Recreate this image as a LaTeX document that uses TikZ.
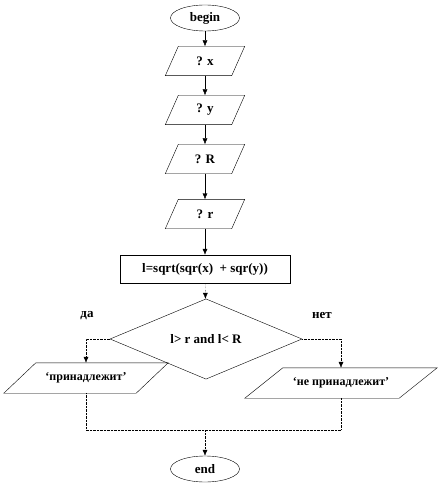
\documentclass[tikz,border=0pt]{standalone}
\usepackage{fontspec}
\setmainfont{Liberation Serif}
\usetikzlibrary{shapes.geometric,arrows.meta}
\newcommand\myslant[2]{\draw[thin] ([xshift=#2]#1.north west) -- ([xshift=#2]#1.north east) -- ([xshift=-#2]#1.south east) -- ([xshift=-#2]#1.south west) -- cycle;}
\begin{document}
\begin{tikzpicture}[x=1pt,y=-1pt,
  every node/.style={font=\fontsize{13}{15}\selectfont\bfseries, inner sep=0pt},
  term/.style={draw, ellipse, thin, minimum width=69pt, minimum height=26pt},
  inp/.style={rectangle, minimum height=29pt, minimum width=66pt},
  outp/.style={rectangle, minimum height=30pt, font=\fontsize{12}{14}\selectfont\bfseries},
  proc/.style={draw, thin, rectangle, minimum width=170pt, minimum height=28pt},
  dec/.style={draw, thin, diamond, minimum width=192pt, minimum height=62pt},
  arr/.style={-{Latex[length=6pt,width=5pt]}, thin},
  dot/.style={densely dotted, thin}]
\useasboundingbox (0,0) rectangle (442,489);
\node[term] (b) at (205,18) {begin};
\node[inp] (x) at (205,61) {? x};
\myslant{x}{6.5pt}
\node[inp] (y) at (205,110) {? y};
\myslant{y}{6.5pt}
\node[inp] (R) at (205,159) {? R};
\myslant{R}{6.5pt}
\node[inp] (r) at (205,214) {? r};
\myslant{r}{6.5pt}
\node[proc] (l) at (205,269) {l=sqrt(sqr(x)\ \ + sqr(y))};
\node[dec] (d) at (206,339) {l> r and l< R};
\node[outp, minimum width=132pt] (p) at (86,378) {‘принадлежит’};
\myslant{p}{16pt}
\node[outp, minimum width=154pt] (np) at (341,383) {‘не принадлежит’};
\myslant{np}{19pt}
\node[term] (e) at (205,469) {end};
\node (da) at (87,316) {да};
\node (net) at (322,316) {нет};
\coordinate (m) at (205,430);
\draw[arr] (b) -- (x);
\draw[arr] (x) -- (y);
\draw[arr] (y) -- (R);
\draw[arr] (R) -- (r);
\draw[arr] (r) -- (l);
\draw[arr,dot] (l) -- (d);
\draw[arr,dot] (d.west) -| (p.north);
\draw[arr,dot] (d.east) -| (np.north);
\draw[dot] (p.south) |- (m) -| (np.south);
\draw[arr,dot] (m) -- (e);
\end{tikzpicture}
\end{document}
